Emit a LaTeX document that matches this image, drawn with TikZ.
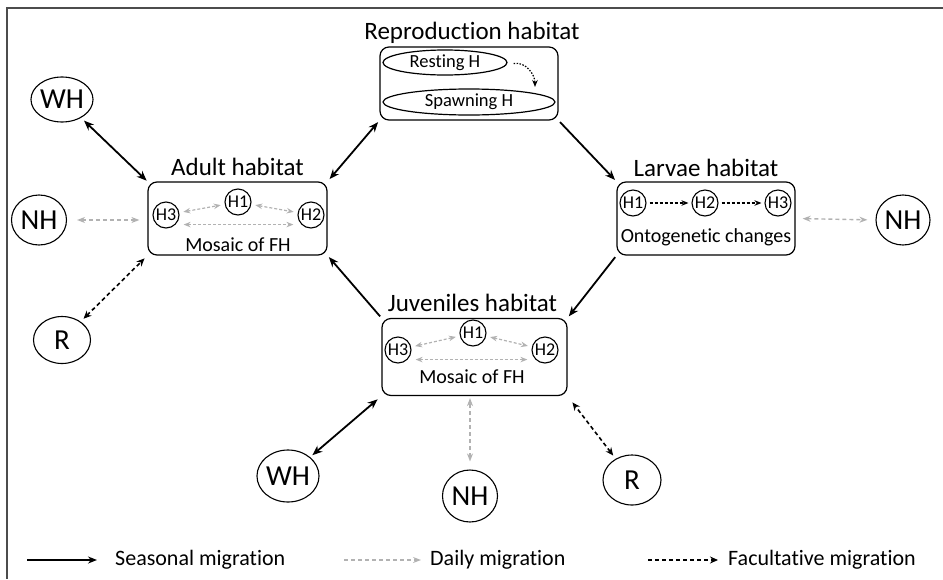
\documentclass[tikz,border=0pt]{standalone}
\usepackage{fontspec}
\setmainfont{Carlito}[Ligatures=NoCommon]
\usetikzlibrary{arrows.meta, positioning, shapes.geometric}

\begin{document}
\begin{tikzpicture}[
    x=1pt, y=-1pt,
    hbox/.style={draw, rounded corners=9pt, line width=1.2pt,
                 minimum width=178pt, minimum height=73pt},
    htitle/.style={font=\fontsize{25}{29}\selectfont, inner sep=0pt},
    hcirc/.style={draw, circle, line width=1.1pt, minimum size=26pt, inner sep=0pt,
                  font=\fontsize{18}{21}\selectfont},
    hell/.style={draw, ellipse, line width=1.2pt, inner sep=0pt,
                 font=\fontsize{18.5}{21}\selectfont},
    outer/.style={draw, ellipse, line width=1.1pt, inner sep=0pt,
                  font=\fontsize{29}{32}\selectfont},
    note/.style={font=\fontsize{20}{23}\selectfont, inner sep=0pt},
    legtxt/.style={font=\fontsize{22}{26}\selectfont, inner sep=0pt, anchor=west},
    season/.style={line width=1.8pt, >={Stealth[length=10pt,width=8pt]}},
    daily/.style={line width=1.4pt, gray!60, dash pattern=on 4pt off 3pt,
                  >={Stealth[length=8pt,width=6pt]}},
    facult/.style={line width=1.6pt, dash pattern=on 4pt off 3pt,
                   >={Stealth[length=8pt,width=7pt]}},
    fine/.style={line width=1.2pt, gray!60, dash pattern=on 3pt off 2pt,
                 >={Stealth[length=7pt,width=5.5pt]}},
    ofine/.style={line width=1.2pt, dash pattern=on 3pt off 2pt,
                  >={Stealth[length=7pt,width=5.5pt]}},
]
    \useasboundingbox (0,0) rectangle (943,579);

    % frame
    \draw[black!70, line width=2pt] (943,8) -- (7,8) -- (7,579);

    %==================== HABITAT BOXES ====================
    \node[hbox] (repro) at (469,83.5) {};
    \node[hbox, minimum width=179pt] (adult) at (237.5,218.5) {};
    \node[hbox] (larvae) at (706,218.5) {};
    \node[hbox, minimum width=185pt, minimum height=77pt] (juv) at (474.5,357) {};

    \node[htitle, above=3pt of repro, xshift=3pt] (reprot) {Reproduction habitat};
    \node[htitle, above=6pt of adult] (adultt) {Adult habitat};
    \node[htitle, above=5pt of larvae] (larvaet) {Larvae habitat};
    \node[htitle, above=6pt of juv, xshift=-2pt] (juvt) {Juveniles habitat};

    %==================== REPRODUCTION ====================
    \node[hell, minimum width=124pt, minimum height=25pt] (rest) at (445,62.5) {Resting H};
    \node[hell, minimum width=172pt, minimum height=26pt] (spawn) at (469,102) {Spawning H};
    \coordinate (spawntop) at (535,87);
    \draw[ofine, ->, dash pattern=on 1.5pt off 1.5pt] ([xshift=6pt,yshift=-1pt]rest.east)
        to[out=10, in=90] (spawntop);

    %==================== ADULT ====================
    \node[hcirc] (a1) at (238,202) {H1};
    \node[hcirc] (a3) at (166,215) {H3};
    \node[hcirc] (a2) at (311,215) {H2};
    \node[note] (amos) at (238,245) {Mosaic of FH};
    \draw[fine, <->, shorten <=4pt, shorten >=4pt] (a3) -- (a1);
    \draw[fine, <->, shorten <=4pt, shorten >=4pt] (a1) -- (a2);
    \draw[fine, <->] ([xshift=8pt]a3.south east) -- ([xshift=-8pt]a2.south west);

    %==================== LARVAE ====================
    \node[hcirc] (l1) at (633,203) {H1};
    \node[hcirc] (l2) at (705,203) {H2};
    \node[hcirc] (l3) at (778,203) {H3};
    \node[note] (lont) at (706,237) {Ontogenetic changes};
    \draw[ofine, ->, shorten <=3pt, shorten >=3pt] (l1) -- (l2);
    \draw[ofine, ->, shorten <=3pt, shorten >=3pt] (l2) -- (l3);

    %==================== JUVENILES ====================
    \node[hcirc] (j1) at (473,333) {H1};
    \node[hcirc] (j3) at (398,350) {H3};
    \node[hcirc] (j2) at (545,350) {H2};
    \node[note] (jmos) at (472,377) {Mosaic of FH};
    \draw[fine, <->, shorten <=4pt, shorten >=4pt] (j3) -- (j1);
    \draw[fine, <->, shorten <=4pt, shorten >=4pt] (j1) -- (j2);
    \draw[fine, <->] ([xshift=8pt]j3.south east) -- ([xshift=-8pt]j2.south west);

    %==================== SEASONAL CYCLE ====================
    \draw[season, <->, shorten <=3pt, shorten >=2pt] (adult.north east) -- (repro.south west);
    \draw[season, ->, shorten <=2pt, shorten >=2pt] (repro.south east) -- (larvae.north west);
    \draw[season, ->, shorten <=2pt, shorten >=2pt] (larvae.south west) -- (juv.north east);
    \draw[season, ->, shorten <=2pt, shorten >=2pt] (juv.north west) -- (adult.south east);

    %==================== OUTER HABITATS ====================
    \node[outer, minimum width=58pt, minimum height=45pt] (wha) at (62,99.5) {WH};
    \node[outer, minimum width=55pt, minimum height=50pt] (nha) at (39,220) {NH};
    \node[outer, minimum width=57pt, minimum height=47pt] (ra) at (62,340) {R};
    \node[outer, minimum width=57pt, minimum height=52pt] (whj) at (288,476) {WH};
    \node[outer, minimum width=55pt, minimum height=52pt] (nhj) at (470,496) {NH};
    \node[outer, minimum width=58pt, minimum height=50pt] (rj) at (632,480) {R};
    \node[outer, minimum width=54pt, minimum height=50pt] (nhl) at (903,220) {NH};

    \draw[season, <->, shorten <=4pt, shorten >=1pt] (wha) -- (adult.north west);
    \draw[daily, <->, shorten <=10pt, shorten >=8pt] (nha) -- (nha -| adult.west);
    \draw[facult, <->, shorten <=4pt, shorten >=4pt] (ra) -- (adult.south west);

    \draw[season, <->, shorten <=3pt, shorten >=5pt] (whj) -- (juv.south west);
    \draw[daily, <->, shorten <=8pt, shorten >=2pt] (nhj.north) -- (nhj.north |- juv.south);
    \draw[facult, <->, shorten <=4pt, shorten >=8pt] (rj) -- (juv.south east);

    \draw[daily, <->, shorten <=7pt, shorten >=8pt] (larvae.east) -- (nhl.west);

    %==================== LEGEND ====================
    \coordinate (ls1) at (27,560);
    \coordinate (ls2) at (97,560);
    \node[legtxt] (lsea) at (115,560) {Seasonal migration};
    \draw[season, ->, line width=1.6pt, >={Stealth[length=9pt,width=7pt]}] (ls1) -- (ls2);

    \coordinate (ld1) at (344,560);
    \coordinate (ld2) at (421,560);
    \node[legtxt] (ldai) at (430,560) {Daily migration};
    \draw[daily, ->, line width=1.2pt] (ld1) -- (ld2);

    \coordinate (lf1) at (648,560);
    \coordinate (lf2) at (718,560);
    \node[legtxt] (lfac) at (728,560) {Facultative migration};
    \draw[facult, ->, line width=1.4pt] (lf1) -- (lf2);

\end{tikzpicture}
\end{document}
